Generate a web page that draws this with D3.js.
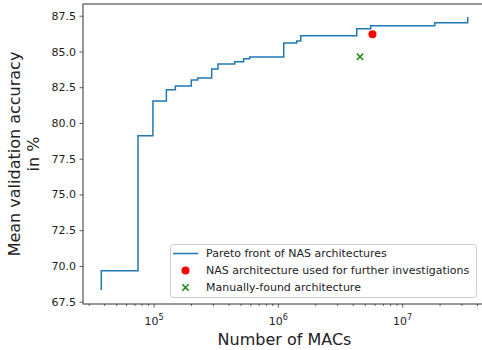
<!DOCTYPE html>
<html>
<head>
<meta charset="utf-8">
<script src="https://cdn.jsdelivr.net/npm/d3@7"></script>
<style>
body { margin: 0; background: #fff; }
text { font-family: "DejaVu Sans", sans-serif; fill: #222; }
</style>
</head>
<body>
<svg width="482" height="350"></svg>
<script>
// Pareto front (step-after), MACs vs mean validation accuracy
const paretoMacs = [37900, 37900, 74800, 98700, 126600, 149600, 201000, 226000, 293000,
  329500, 449000, 530000, 593000, 1114000, 1417000, 1527000, 4310000, 5580000, 18300000, 33700000];
const paretoAcc = [68.32, 69.67, 79.11, 81.53, 82.33, 82.58, 83.0, 83.14, 83.77,
  84.12, 84.28, 84.49, 84.61, 85.59, 85.73, 86.10, 86.59, 86.80, 87.01, 87.41];
const nasMacs = [5770000];
const nasAcc = [86.2];
const manualMacs = [4580000];
const manualAcc = [84.63];
const yTicks = [67.5, 70, 72.5, 75, 77.5, 80, 82.5, 85, 87.5];
const xMajorTicks = [1e5, 1e6, 1e7];
const legendLabels = ['Pareto front of NAS architectures',
  'NAS architecture used for further investigations',
  'Manually-found architecture'];

const svg = d3.select('svg');
const plotLeft = 83, plotRight = 486, plotTop = 4, plotBottom = 304;

const x = d3.scaleLog().domain([2.7e4, 4.73e7]).range([plotLeft, plotRight]);
const y = d3.scaleLinear().domain([67.34, 88.32]).range([plotBottom, plotTop]);

// minor x ticks
const minorTicks = [];
for (let e = 4; e <= 7; e++) {
  for (let m = 2; m <= 9; m++) {
    const v = m * Math.pow(10, e);
    if (v > x.domain()[0] && v < x.domain()[1]) minorTicks.push(v);
  }
}

const axisStyle = (g) => {
  g.select('.domain').remove();
  g.selectAll('line').attr('stroke', '#333').attr('stroke-width', 0.8);
  g.selectAll('text').attr('font-size', '11px').attr('fill', '#222');
};

svg.append('g')
  .attr('transform', `translate(0,${plotBottom})`)
  .call(d3.axisBottom(x).tickValues(minorTicks).tickSize(2).tickFormat(''))
  .call(axisStyle);

const xAxis = svg.append('g')
  .attr('transform', `translate(0,${plotBottom})`)
  .call(d3.axisBottom(x).tickValues(xMajorTicks).tickSize(3.5).tickPadding(4).tickFormat(''))
  .call(axisStyle);

xAxis.selectAll('.tick').append('text')
  .attr('y', 20.5)
  .attr('text-anchor', 'middle')
  .attr('font-size', '11px')
  .each(function (d) {
    const t = d3.select(this);
    t.append('tspan').text('10');
    t.append('tspan').attr('dy', -5).attr('font-size', '8px').text(Math.round(Math.log10(d)));
  });

svg.append('g')
  .attr('transform', `translate(${plotLeft},0)`)
  .call(d3.axisLeft(y).tickValues(yTicks).tickSize(3.5).tickPadding(3.5).tickFormat(d3.format('.1f')))
  .call(axisStyle);

// frame (right spine falls outside the picture)
svg.append('rect')
  .attr('x', plotLeft).attr('y', plotTop)
  .attr('width', plotRight - plotLeft).attr('height', plotBottom - plotTop)
  .attr('fill', 'none').attr('stroke', '#333').attr('stroke-width', 1);

// pareto step line
const paretoData = paretoMacs.map((m, i) => [m, paretoAcc[i]]);
svg.append('path')
  .datum(paretoData)
  .attr('fill', 'none')
  .attr('stroke', '#1f77b4')
  .attr('stroke-width', 1.5)
  .attr('d', d3.line().x(d => x(d[0])).y(d => y(d[1])).curve(d3.curveStepAfter));

svg.selectAll('.nas')
  .data(nasMacs)
  .enter().append('circle')
  .attr('class', 'nas')
  .attr('cx', d => x(d))
  .attr('cy', (d, i) => y(nasAcc[i]))
  .attr('r', 4)
  .attr('fill', '#ff0000');

const cross = (sel, s) => sel.attr('d', `M${-s},${-s}L${s},${s}M${-s},${s}L${s},${-s}`)
  .attr('stroke', '#008000').attr('stroke-width', 1.3).attr('fill', 'none');

svg.selectAll('.manual')
  .data(manualMacs)
  .enter().append('path')
  .attr('class', 'manual')
  .attr('transform', (d, i) => `translate(${x(d)},${y(manualAcc[i])})`)
  .call(cross, 3.2);

// axis labels
svg.append('text')
  .attr('x', (plotLeft + plotRight) / 2)
  .attr('y', 345)
  .attr('text-anchor', 'middle')
  .attr('font-size', '16px')
  .text('Number of MACs');

const yLabel = svg.append('text')
  .attr('transform', `translate(20,${(plotTop + plotBottom) / 2}) rotate(-90)`)
  .attr('text-anchor', 'middle')
  .attr('font-size', '16px');
yLabel.append('tspan').attr('x', 0).attr('y', 0).text('Mean validation accuracy');
yLabel.append('tspan').attr('x', 0).attr('y', 19).text('in %');

// legend
const legend = svg.append('g');
legend.append('rect')
  .attr('x', 170.5).attr('y', 244.5)
  .attr('width', 306).attr('height', 53)
  .attr('rx', 3)
  .attr('fill', '#fff').attr('fill-opacity', 0.8)
  .attr('stroke', '#ccc');

const rows = legend.selectAll('.row')
  .data(legendLabels)
  .enter().append('g')
  .attr('transform', (d, i) => `translate(173,${253.5 + i * 17})`);

rows.append('text')
  .attr('x', 33)
  .attr('dy', '0.35em')
  .attr('font-size', '11px')
  .text(d => d);

rows.filter((d, i) => i === 0).append('line')
  .attr('x1', 0).attr('x2', 25)
  .attr('stroke', '#1f77b4').attr('stroke-width', 1.5);
rows.filter((d, i) => i === 1).append('circle')
  .attr('cx', 12.5).attr('r', 4).attr('fill', '#ff0000');
rows.filter((d, i) => i === 2).append('path')
  .attr('transform', 'translate(12.5,0)')
  .call(cross, 3.2);
</script>
</body>
</html>
